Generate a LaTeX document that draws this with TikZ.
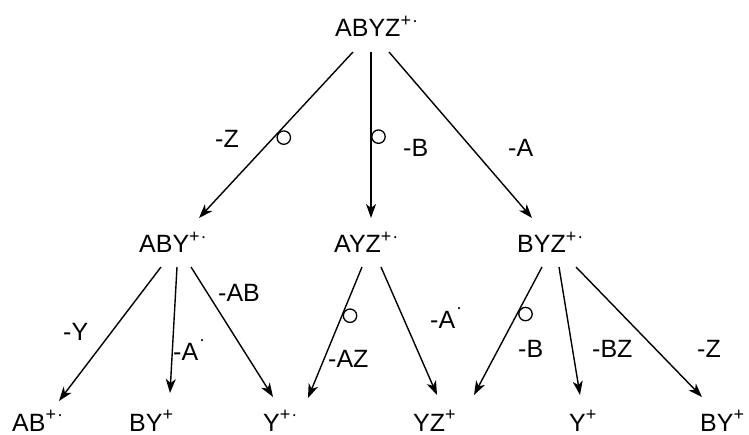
\documentclass[tikz,border=0pt]{standalone}
\usepackage{fontspec}
\setmainfont{Liberation Sans}
\usetikzlibrary{calc,arrows.meta}
\tikzset{
  sp/.style={inner sep=0pt, anchor=base west, font=\fontsize{25}{30}\selectfont},
  lbl/.style={inner sep=0pt, anchor=base west, font=\fontsize{25}{30}\selectfont},
  arr/.style={line width=1.4pt, -{Stealth[length=14pt,width=10pt,inset=4pt]}},
  ring/.style={line width=1.3pt, draw=black, fill=white},
}
\newcommand{\rad}{\raisebox{10.5pt}{\fontsize{18}{20}\selectfont +\kern1pt·}}
\newcommand{\ion}{\raisebox{10.5pt}{\fontsize{18}{20}\selectfont +}}
\newcommand{\rdot}{\kern1pt\raisebox{15pt}{\fontsize{18}{20}\selectfont ·}}
\begin{document}
\begin{tikzpicture}[x=1pt,y=-1pt]
\useasboundingbox (0,0) rectangle (749,435);
% species
\node[sp] (abyz) at (335,37) {ABYZ\rad};
\node[sp] (aby) at (139,253) {ABY\rad};
\node[sp] (ayz) at (334,253) {AYZ\rad};
\node[sp] (byz) at (517,253) {BYZ\rad};
\node[sp] (ab) at (12,431) {AB\rad};
\node[sp] (by1) at (129,431) {BY\ion};
\node[sp] (y1) at (263,431) {Y\rad};
\node[sp] (yz) at (413,431) {YZ\ion};
\node[sp] (y2) at (569,431) {Y\ion};
\node[sp] (by2) at (700,431) {BY\ion};
% connectors from ABYZ
\draw[arr] ($(abyz.base west)+(18,15)$) -- coordinate[pos=0.485] (c1) ($(aby.base west)+(60,-35)$) coordinate (e1);
\draw[arr] ($(abyz.base west)+(36,15)$) -- coordinate[pos=0.51] (c2) ($(ayz.base west)+(37,-35)$) coordinate (e2);
\draw[arr] ($(abyz.base west)+(54,15)$) -- ($(byz.base west)+(15,-35)$);
% from ABY
\draw[arr] ($(aby.base west)+(22,14)$) -- ($(ab.base west)+(47,-30)$);
\draw[arr] ($(aby.base west)+(38,14)$) -- ($(by1.base west)+(41,-38)$);
\draw[arr] ($(aby.base west)+(52,14)$) -- ($(y1.base west)+(10,-34)$);
% from AYZ
\draw[arr] ($(ayz.base west)+(28,14)$) -- coordinate[pos=0.35] (c3) ($(y1.base west)+(45,-33)$) coordinate (e3);
\draw[arr] ($(ayz.base west)+(47,14)$) -- ($(yz.base west)+(24,-36)$);
% from BYZ
\draw[arr] ($(byz.base west)+(25,14)$) -- coordinate[pos=0.34] (c4) ($(yz.base west)+(61,-36)$) coordinate (e4);
\draw[arr] ($(byz.base west)+(42,14)$) -- ($(y2.base west)+(11,-36)$);
\draw[arr] ($(byz.base west)+(59,14)$) -- ($(by2.base west)+(2,-34)$);
% rings beside the bonds
\draw[ring] ($(c1)!7.5pt!90:(e1)$) circle[radius=6.7pt];
\draw[ring] ($(c2)!7.5pt!90:(e2)$) circle[radius=6.7pt];
\draw[ring] ($(c3)!7.5pt!90:(e3)$) circle[radius=6.7pt];
\draw[ring] ($(c4)!7.5pt!90:(e4)$) circle[radius=6.7pt];
% labels
\node[lbl] (l1) at (215,148) {-Z};
\node[lbl] (l2) at (403,157) {-B};
\node[lbl] (l3) at (508,157) {-A};
\node[lbl] (l4) at (63,340) {-Y};
\node[lbl] (l5) at (173,360) {-A\rdot};
\node[lbl] (l6) at (218,302) {-AB};
\node[lbl] (l7) at (328,367) {-AZ};
\node[lbl] (l8) at (430,328) {-A\rdot};
\node[lbl] (l9) at (518,357) {-B};
\node[lbl] (l10) at (592,357) {-BZ};
\node[lbl] (l11) at (697,357) {-Z};
\end{tikzpicture}
\end{document}
